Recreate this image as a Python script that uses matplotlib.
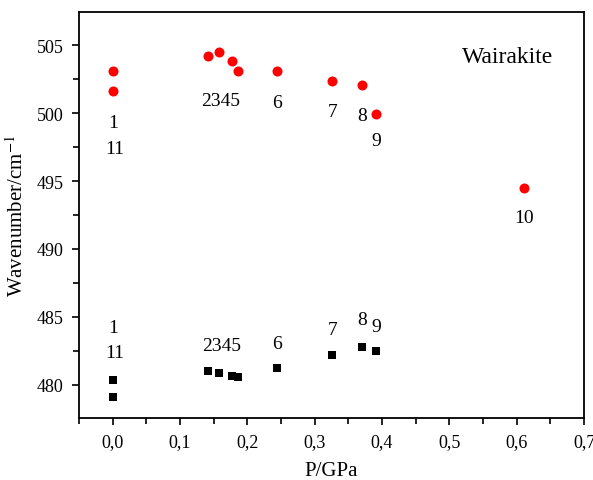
import matplotlib
matplotlib.use("Agg")
import matplotlib.pyplot as plt
from matplotlib.ticker import MultipleLocator, FuncFormatter

plt.rcParams["font.family"] = ["Liberation Serif", "DejaVu Serif"]
plt.rcParams["mathtext.fontset"] = "stix"

# pressure (GPa) and wavenumbers (cm-1)
p_red = [0.0, 0.0, 0.141, 0.158, 0.177, 0.186, 0.244, 0.326, 0.370, 0.391, 0.611]
w_red = [503.1, 501.6, 504.2, 504.5, 503.85, 503.1, 503.1, 502.4, 502.05, 499.95, 494.5]

p_black = [0.0, 0.0, 0.141, 0.158, 0.177, 0.186, 0.244, 0.326, 0.370, 0.391]
w_black = [480.35, 479.1, 481.0, 480.9, 480.65, 480.55, 481.25, 482.2, 482.8, 482.5]

# point labels: text, x, y
red_labels = [("1", 0.0, 499.3), ("11", 0.003, 497.4), ("2345", 0.16, 500.9),
              ("6", 0.244, 500.75), ("7", 0.326, 500.1), ("8", 0.37, 499.8),
              ("9", 0.392, 498.0), ("10", 0.611, 492.3)]
black_labels = [("1", 0.0, 484.2), ("11", 0.003, 482.35), ("2345", 0.162, 482.9),
                ("6", 0.244, 483.05), ("7", 0.326, 484.1), ("8", 0.37, 484.8),
                ("9", 0.392, 484.3)]

fig = plt.figure(figsize=(5.93, 4.81), dpi=100)
ax = fig.add_axes([79 / 593, 1 - 419 / 481, (584 - 79) / 593, (419 - 13) / 481])

ax.scatter(p_red, w_red, s=52, c="#ff0000", marker="o", linewidths=0, zorder=3)
ax.scatter(p_black, w_black, s=36, c="black", marker="s", linewidths=0, zorder=3)

for t, x, y in red_labels + black_labels:
    ax.text(x, y, t, ha="center", va="center", fontsize=14)

ax.text(0.586, 504.2, "Wairakite", ha="center", va="center", fontsize=17)

ax.set_xlim(-0.05, 0.7)
ax.set_ylim(477.55, 507.45)
ax.xaxis.set_major_locator(MultipleLocator(0.1))
ax.xaxis.set_minor_locator(MultipleLocator(0.05))
ax.yaxis.set_major_locator(MultipleLocator(5))
ax.yaxis.set_minor_locator(MultipleLocator(2.5))
ax.xaxis.set_major_formatter(FuncFormatter(lambda v, pos: f"{v:.1f}".replace(".", ",")))
ax.yaxis.set_major_formatter(FuncFormatter(lambda v, pos: f"{v:.0f}"))

ax.tick_params(which="major", direction="out", length=5, width=1.2, labelsize=13, pad=6)
ax.tick_params(which="minor", direction="out", length=4, width=1.2)
for s in ax.spines.values():
    s.set_linewidth(1.3)

ax.set_xlabel("P/GPa", fontsize=15, labelpad=8)
ax.set_ylabel("Wavenumber/cm$^{-1}$", fontsize=15, labelpad=6)

fig.savefig("out.png", dpi=100)
